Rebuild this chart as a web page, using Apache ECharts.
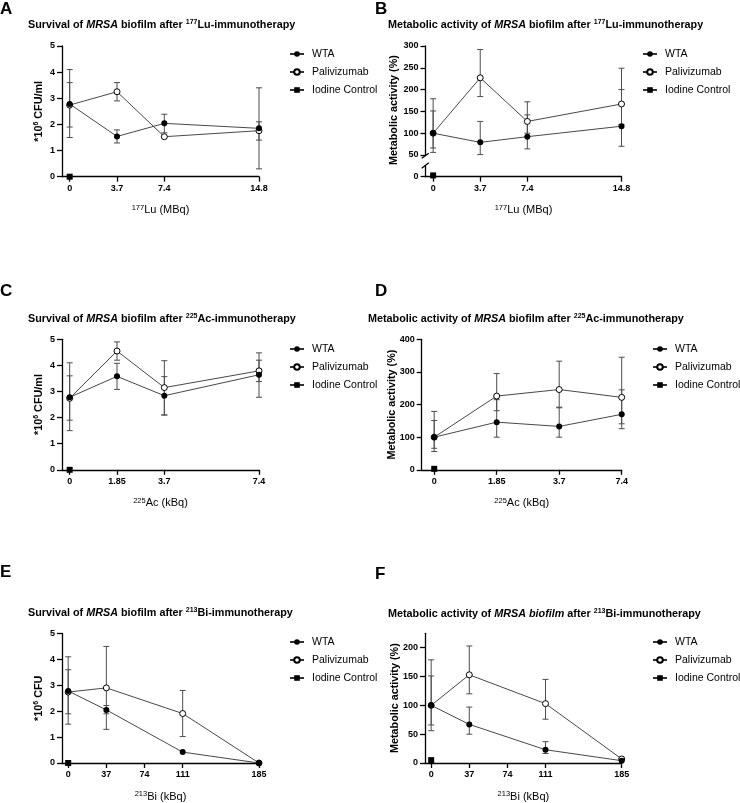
<!DOCTYPE html>
<html><head><meta charset="utf-8">
<script src="https://cdn.jsdelivr.net/npm/echarts@6/dist/echarts.min.js"></script>
<style>html,body{margin:0;padding:0;background:#fff}#c{width:740px;height:803px}</style>
</head><body><div id="c"></div>
<script>
// ---------------- data ----------------
const seriesNames = ['WTA', 'Palivizumab', 'Iodine Control'];
const luDoses = [0, 3.7, 7.4, 14.8];
const luTicks = [0, 3.7, 7.4, 14.8];
const luTickLabels = ['0', '3.7', '7.4', '14.8'];
const acDoses = [0, 1.85, 3.7, 7.4];
const acTickLabels = ['0', '1.85', '3.7', '7.4'];
const biDoses = [0, 37, 111, 185];
const biTicks = [0, 37, 74, 111, 185];
const biTickLabels = ['0', '37', '74', '111', '185'];

// A: survival after 177Lu (*10^6 CFU/ml)
const aWTA = [2.78, 1.54, 2.04, 1.85];
const aWTALo = [1.5, 1.29, 1.68, 0.3];
const aWTAHi = [4.1, 1.79, 2.39, 3.4];
const aPali = [2.74, 3.25, 1.53, 1.76];
const aPaliLo = [1.9, 2.9, 1.53, 1.4];
const aPaliHi = [3.6, 3.6, 1.53, 2.1];
const aIodine = [0];

// B: metabolic activity after 177Lu (%)
const bWTA = [100, 79, 92, 116];
const bWTALo = [56, 51, 64, 70];
const bWTAHi = [179, 127, 142, 200];
const bPali = [100, 227, 127, 167];
const bPaliLo = [66, 184, 100, 120];
const bPaliHi = [151, 292, 172, 249];
const bIodine = [3];

// C: survival after 225Ac
const cWTA = [2.78, 3.58, 2.84, 3.64];
const cWTALo = [1.5, 3.08, 2.1, 2.78];
const cWTAHi = [4.1, 4.08, 3.57, 4.48];
const cPali = [2.74, 4.55, 3.15, 3.79];
const cPaliLo = [1.9, 4.2, 2.1, 3.38];
const cPaliHi = [3.6, 4.9, 4.18, 4.2];
const cIodine = [0];

// D: metabolic activity after 225Ac
const dWTA = [100, 146, 133, 170];
const dWTALo = [56, 100, 100, 126];
const dWTAHi = [179, 215, 192, 245];
const dPali = [100, 226, 246, 222];
const dPaliLo = [66, 181, 190, 141];
const dPaliHi = [151, 295, 333, 345];
const dIodine = [3];

// E: survival after 213Bi (*10^6 CFU)
const eWTA = [2.78, 2.05, 0.42, 0];
const eWTALo = [1.5, 1.9, 0.42, 0];
const eWTAHi = [4.1, 2.22, 0.42, 0];
const ePali = [2.74, 2.9, 1.91, 0];
const ePaliLo = [1.9, 1.3, 1.02, 0];
const ePaliHi = [3.6, 4.5, 2.8, 0];
const eIodine = [0];

// F: metabolic activity after 213Bi
const fWTA = [100, 67, 23, 4];
const fWTALo = [56, 50, 16.5, 4];
const fWTAHi = [179, 97, 37, 4];
const fPali = [100, 153, 103, 7];
const fPaliLo = [66, 120, 76, 7];
const fPaliHi = [151, 203, 145, 7];
const fIodine = [5];

// ---------------- styling helpers ----------------
const FONT = '"Liberation Sans", Arial, Helvetica, sans-serif';
const R = {
  b: {fontFamily: FONT, fontWeight: 'bold', fontSize: 10.8, lineHeight: 13, color: '#000'},
  bi: {fontFamily: FONT, fontWeight: 'bold', fontStyle: 'italic', fontSize: 10.8, lineHeight: 13, color: '#000'},
  bs: {fontFamily: FONT, fontWeight: 'bold', fontSize: 7, lineHeight: 8, verticalAlign: 'top', color: '#000'},
  n: {fontFamily: FONT, fontSize: 11, lineHeight: 13, color: '#000'},
  ns: {fontFamily: FONT, fontSize: 7.5, lineHeight: 8, verticalAlign: 'top', color: '#000'}
};
const AX = {color: '#000', width: 1.3};

const option = {
  animation: false, backgroundColor: '#fff',
  title: [], legend: [], grid: [], xAxis: [], yAxis: [], series: [], graphic: []
};

function makeX(g, xc, show) {
  const fmt = v => { const k = xc.ticks.indexOf(v); return k >= 0 ? xc.labels[k] : ''; };
  return {
    type: 'value', gridIndex: g, min: xc.min, max: xc.max,
    axisLine: {show: show, onZero: false, lineStyle: AX},
    axisTick: {show: show, length: 5, customValues: xc.ticks, lineStyle: AX},
    axisLabel: {show: show, margin: 7, customValues: xc.ticks, formatter: fmt,
      fontFamily: FONT, fontWeight: 'bold', fontSize: 9, color: '#000'},
    splitLine: {show: false},
    name: show ? xc.name : '', nameLocation: 'middle', nameGap: 27,
    nameTextStyle: {rich: R}
  };
}
function makeY(g, yc) {
  return {
    type: 'value', gridIndex: g, min: yc.min, max: yc.max, interval: yc.interval,
    axisLine: {show: true, onZero: false, lineStyle: AX},
    axisTick: {show: true, length: 5, customValues: yc.ticks, lineStyle: AX},
    axisLabel: {margin: 7, customValues: yc.ticks, fontFamily: FONT, fontWeight: 'bold', fontSize: 9, color: '#000'},
    splitLine: {show: false},
    name: yc.name || '', nameLocation: 'middle', nameGap: yc.gap || 20, nameRotate: 90,
    nameMoveOverlap: false,
    nameTextStyle: {rich: R, padding: yc.pad || 0}
  };
}
function errS(id, xs, lo, hi, g) {
  return {
    type: 'custom', id: id, name: id, xAxisIndex: g, yAxisIndex: g, silent: true, z: 2,
    data: xs.map((x, i) => [x, lo[i], hi[i]]),
    encode: {x: 0, y: [1, 2]},
    renderItem: function (params, api) {
      const x = api.value(0), l = api.value(1), h = api.value(2);
      if (l === h) return null;
      const p1 = api.coord([x, l]), p2 = api.coord([x, h]);
      const w = 3, st = {stroke: '#4d4d4d', lineWidth: 1};
      return {type: 'group', children: [
        {type: 'line', shape: {x1: p1[0], y1: p1[1], x2: p2[0], y2: p2[1]}, style: st},
        {type: 'line', shape: {x1: p1[0] - w, y1: p1[1], x2: p1[0] + w, y2: p1[1]}, style: st},
        {type: 'line', shape: {x1: p2[0] - w, y1: p2[1], x2: p2[0] + w, y2: p2[1]}, style: st}
      ]};
    }
  };
}
function lineS(name, xs, ys, g, symbol, z) {
  const open = symbol === 'open';
  return {
    type: 'line', name: name, xAxisIndex: g, yAxisIndex: g, z: z,
    data: xs.map((x, i) => [x, ys[i]]),
    symbol: open ? 'circle' : symbol, symbolSize: 6, showAllSymbol: true,
    itemStyle: open ? {color: '#fff', borderColor: '#000', borderWidth: 1} : {color: '#000', borderWidth: 0},
    lineStyle: {color: '#333', width: 0.9},
    emphasis: {disabled: true}
  };
}

function addPanel(P) {
  option.title.push({text: P.letter, left: P.letterPos[0], top: P.letterPos[1], padding: 0,
    textStyle: {fontFamily: FONT, fontWeight: 'bold', fontSize: 17, lineHeight: 18, color: '#000'}});
  option.title.push({text: P.title, left: P.titlePos[0], top: P.titlePos[1], padding: 0,
    textStyle: {rich: R}});
  const g = option.grid.length;
  option.grid.push({left: P.grid[0], top: P.grid[1], width: P.grid[2], height: P.grid[3]});
  option.xAxis.push(makeX(g, P.x, !P.lower));
  option.yAxis.push(makeY(g, P.y));
  let gi = g;
  if (P.lower) {
    gi = option.grid.length;
    option.grid.push({left: P.lower.grid[0], top: P.lower.grid[1], width: P.lower.grid[2], height: P.lower.grid[3]});
    option.xAxis.push(makeX(gi, P.x, true));
    option.yAxis.push(makeY(gi, P.lower.y));
  }
  option.series.push(errS(P.letter + '-errP', P.xs, P.paliLo, P.paliHi, g));
  option.series.push(errS(P.letter + '-errW', P.xs, P.wtaLo, P.wtaHi, g));
  option.series.push(lineS(seriesNames[1], P.xs, P.pali, g, 'open', 3));
  option.series.push(lineS(seriesNames[0], P.xs, P.wta, g, 'circle', 4));
  const iod = lineS(seriesNames[2], [P.xs[0]], P.iod, gi, 'rect', 5);
  option.series.push(iod);
  option.legend.push({data: seriesNames, orient: 'vertical', left: P.legendPos[0], top: P.legendPos[1],
    itemWidth: 14, itemHeight: 7, itemGap: 6, padding: 0, selectedMode: false,
    textStyle: {fontFamily: FONT, fontSize: 10.5, lineHeight: 12, color: '#000', padding: [0, 0, 0, 3]}});
}

const luX = {min: -0.6, max: 14.8, ticks: luTicks, labels: luTickLabels, name: '{ns|177}{n|Lu (MBq)}'};
const acX = {min: -0.3, max: 7.4, ticks: acDoses, labels: acTickLabels, name: '{ns|225}{n|Ac (kBq)}'};
const acIdx = acDoses.map((d, i) => i);
const acCatX = {min: -0.2, max: acIdx.length - 1, ticks: acIdx, labels: acTickLabels, name: '{ns|225}{n|Ac (kBq)}'};
const biX = {min: -6, max: 185, ticks: biTicks, labels: biTickLabels, name: '{ns|213}{n|Bi (kBq)}'};
const cfuName = '{b|*10}{bs|6}{b| CFU/ml}';
const metName = '{b|Metabolic activity (%)}';

addPanel({letter: 'A', letterPos: [0, 0], titlePos: [28, 18.5],
  title: '{b|Survival of }{bi|MRSA}{b| biofilm after }{bs|177}{b|Lu-immunotherapy}',
  grid: [62, 46, 197, 130.7], x: luX, y: {min: 0, max: 5, interval: 1, name: cfuName, gap: 16},
  xs: luDoses, wta: aWTA, wtaLo: aWTALo, wtaHi: aWTAHi, pali: aPali, paliLo: aPaliLo, paliHi: aPaliHi, iod: aIodine,
  legendPos: [289, 48]});

addPanel({letter: 'B', letterPos: [375, 0], titlePos: [388, 18.5],
  title: '{b|Metabolic activity of }{bi|MRSA}{b| biofilm after }{bs|177}{b|Lu-immunotherapy}',
  grid: [425.5, 46, 196, 109], x: luX, y: {min: 50, max: 300, interval: 50, name: metName, gap: 25, pad: [0, 19, 0, 0]},
  lower: {grid: [425.5, 166, 196, 10.7], y: {min: 0, max: 25, ticks: [0]}},
  xs: luDoses, wta: bWTA, wtaLo: bWTALo, wtaHi: bWTAHi, pali: bPali, paliLo: bPaliLo, paliHi: bPaliHi, iod: bIodine,
  legendPos: [642, 48]});

addPanel({letter: 'C', letterPos: [0, 282.5], titlePos: [28, 312.8],
  title: '{b|Survival of }{bi|MRSA}{b| biofilm after }{bs|225}{b|Ac-immunotherapy}',
  grid: [62, 339.3, 197, 130.5], x: acX, y: {min: 0, max: 5, interval: 1, name: cfuName, gap: 16},
  xs: acDoses, wta: cWTA, wtaLo: cWTALo, wtaHi: cWTAHi, pali: cPali, paliLo: cPaliLo, paliHi: cPaliHi, iod: cIodine,
  legendPos: [289, 343]});

addPanel({letter: 'D', letterPos: [375, 282.5], titlePos: [368, 312.8],
  title: '{b|Metabolic activity of }{bi|MRSA}{b| biofilm after }{bs|225}{b|Ac-immunotherapy}',
  grid: [421.7, 339.3, 200, 130.5], x: acCatX, y: {min: 0, max: 400, interval: 100, name: metName, gap: 23},
  xs: acIdx, wta: dWTA, wtaLo: dWTALo, wtaHi: dWTAHi, pali: dPali, paliLo: dPaliLo, paliHi: dPaliHi, iod: dIodine,
  legendPos: [652, 343]});

addPanel({letter: 'E', letterPos: [0, 563.5], titlePos: [28, 606.2],
  title: '{b|Survival of }{bi|MRSA}{b| biofilm after }{bs|213}{b|Bi-immunotherapy}',
  grid: [62, 633.5, 197, 130.9], x: biX, y: {min: 0, max: 5, interval: 1, name: '{b|*10}{bs|6}{b| CFU}', gap: 16},
  xs: biDoses, wta: eWTA, wtaLo: eWTALo, wtaHi: eWTAHi, pali: ePali, paliLo: ePaliLo, paliHi: ePaliHi, iod: eIodine,
  legendPos: [289, 636]});

addPanel({letter: 'F', letterPos: [375, 565], titlePos: [388, 607.8],
  title: '{b|Metabolic activity of }{bi|MRSA biofilm}{b| after }{bs|213}{b|Bi-immunotherapy}',
  grid: [425, 633.3, 196.7, 131], x: biX, y: {min: 0, max: 225, interval: 50, ticks: [0, 50, 100, 150, 200], name: metName, gap: 23},
  xs: biDoses, wta: fWTA, wtaLo: fWTALo, wtaHi: fWTAHi, pali: fPali, paliLo: fPaliLo, paliHi: fPaliHi, iod: fIodine,
  legendPos: [652, 636]});

// axis-break marks on panel B's y axis (decoration)
option.graphic = [
  {type: 'line', shape: {x1: 421.7, y1: 158.3, x2: 428.8, y2: 153.3}, style: {stroke: '#000', lineWidth: 1.3}},
  {type: 'line', shape: {x1: 421.7, y1: 168.3, x2: 428.8, y2: 162.7}, style: {stroke: '#000', lineWidth: 1.3}}
];

const chart = echarts.init(document.getElementById('c'), null, {renderer: 'canvas', width: 740, height: 803});
chart.setOption(option);
</script>
</body></html>
